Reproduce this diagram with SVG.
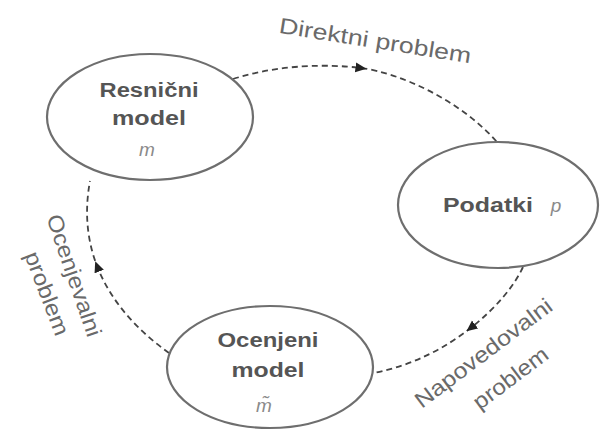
<svg xmlns="http://www.w3.org/2000/svg" width="605" height="431" viewBox="0 0 605 431">
  <style>
    .node ellipse { fill: #ffffff; stroke: #6e6e6e; stroke-width: 2.2; }
    .nl { font-family: "Liberation Sans", Arial, sans-serif; font-weight: bold; font-size: 20px; fill: #555555; text-anchor: middle; }
    .sym { font-family: "Liberation Sans", Arial, sans-serif; font-style: italic; font-size: 19px; fill: #8a8a8a; text-anchor: middle; }
    .el { font-family: "Liberation Sans", Arial, sans-serif; font-size: 22px; fill: #6a6a6a; text-anchor: middle; }
    .conn { fill: none; stroke: #444444; stroke-width: 1.8; stroke-dasharray: 6 4; marker-mid: url(#arr); }
  </style>
  <defs>
    <marker id="arr" viewBox="0 0 10 10" refX="5" refY="5" markerWidth="11" markerHeight="11" markerUnits="userSpaceOnUse" orient="auto">
      <path d="M0,0.5 L10,5 L0,9.5 Z" fill="#222222"/>
    </marker>
  </defs>
  <rect width="605" height="431" fill="#ffffff"/>

  <g id="connectors">
    <path class="conn" d="M233,79 C280,64 330,64 361,68 C400,73 460,100 497,142"/>
    <path class="conn" d="M523,267 C514,286.5 495.75,308.25 470.75,327.9 C445.75,347.5 414,365 374,373"/>
    <path class="conn" d="M169,353 C139.6,332 111.64,303.44 97.2,266.4 C87.6,241.8 84,213.4 90,181"/>
  </g>

  <g id="node-resnicni" class="node">
    <ellipse cx="150" cy="117" rx="103" ry="63"/>
    <text class="nl" x="149" y="97" textLength="99" lengthAdjust="spacingAndGlyphs">Resnični</text>
    <text class="nl" x="149" y="125" textLength="74" lengthAdjust="spacingAndGlyphs">model</text>
    <text class="sym" x="147" y="156">m</text>
  </g>

  <g id="node-podatki" class="node">
    <ellipse cx="498" cy="205" rx="100" ry="63"/>
    <text class="nl" x="488" y="212" textLength="90" lengthAdjust="spacingAndGlyphs">Podatki</text>
    <text class="sym" x="556" y="212">p</text>
  </g>

  <g id="node-ocenjeni" class="node">
    <ellipse cx="270" cy="367" rx="103" ry="61"/>
    <text class="nl" x="268" y="347" textLength="101" lengthAdjust="spacingAndGlyphs">Ocenjeni</text>
    <text class="nl" x="268" y="377" textLength="73" lengthAdjust="spacingAndGlyphs">model</text>
    <text class="sym" x="264" y="412">m̃</text>
  </g>

  <g id="labels">
    <text class="el" transform="translate(374,48) rotate(9)" textLength="194" lengthAdjust="spacingAndGlyphs">Direktni problem</text>
    <text class="el" transform="translate(67,278) rotate(71)" textLength="128" lengthAdjust="spacingAndGlyphs">Ocenjevalni</text>
    <text class="el" transform="translate(40,296) rotate(69)" textLength="88" lengthAdjust="spacingAndGlyphs">problem</text>
    <text class="el" transform="translate(488,359) rotate(-37)" textLength="166" lengthAdjust="spacingAndGlyphs">Napovedovalni</text>
    <text class="el" transform="translate(515,384) rotate(-37)" textLength="88" lengthAdjust="spacingAndGlyphs">problem</text>
  </g>
</svg>
